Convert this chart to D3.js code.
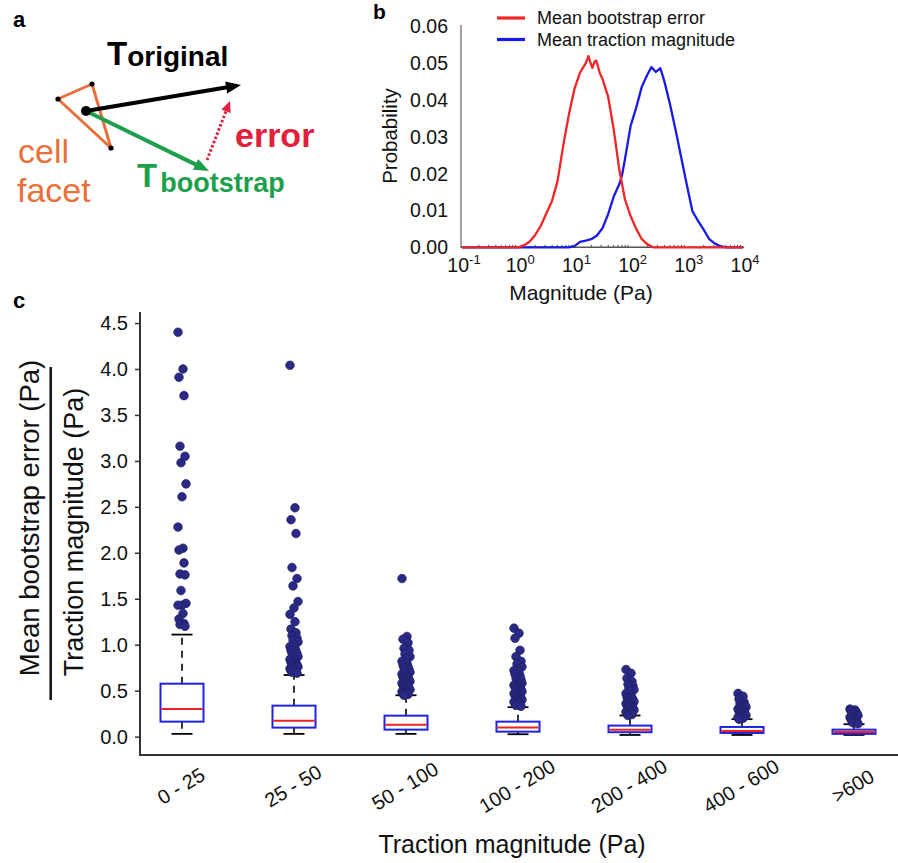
<!DOCTYPE html>
<html><head><meta charset="utf-8">
<script src="https://cdn.jsdelivr.net/npm/d3@7"></script>
<style>
body{margin:0;background:#fff}
text{font-family:"Liberation Sans",Arial,Helvetica,sans-serif}
</style>
</head><body>
<svg id="fig" width="898" height="863"></svg>
<script>
// ---------- Panel b data (log10 magnitude, probability) ----------
const errLog  = [-1, 0, 0.1, 0.2, 0.3, 0.4, 0.5, 0.6, 0.7, 0.8, 0.9, 1.0, 1.1, 1.2, 1.25, 1.28, 1.32, 1.36, 1.39, 1.45, 1.5, 1.6, 1.7, 1.8, 1.9, 2.0, 2.1, 2.2, 2.3, 2.4, 4];
const errProb = [0, 0, 0.0005, 0.0015, 0.0033, 0.0058, 0.0092, 0.0125, 0.018, 0.0275, 0.036, 0.043, 0.0475, 0.050, 0.052, 0.0505, 0.0488, 0.0505, 0.0508, 0.0475, 0.0458, 0.041, 0.032, 0.021, 0.013, 0.0085, 0.005, 0.0022, 0.0008, 0, 0];
const tracLog  = [-1, 0.9, 1.0, 1.1, 1.2, 1.3, 1.4, 1.5, 1.6, 1.7, 1.8, 1.85, 1.9, 2.0, 2.1, 2.2, 2.3, 2.37, 2.45, 2.53, 2.6, 2.7, 2.8, 2.9, 3.0, 3.1, 3.2, 3.3, 3.4, 3.5, 3.6, 3.7, 4];
const tracProb = [0, 0, 0.0003, 0.0015, 0.0018, 0.0022, 0.0032, 0.0052, 0.009, 0.0138, 0.0172, 0.0198, 0.024, 0.033, 0.038, 0.0437, 0.047, 0.049, 0.0477, 0.0487, 0.0452, 0.039, 0.032, 0.0245, 0.017, 0.0098, 0.0072, 0.0048, 0.0022, 0.001, 0.0003, 0, 0];
const bYTicks = [0, 0.01, 0.02, 0.03, 0.04, 0.05, 0.06];
const bXTicks = [0.1, 1, 10, 100, 1000, 10000];
const bXExp   = ["-1", "0", "1", "2", "3", "4"];
const legendLabels = ["Mean bootstrap error", "Mean traction magnitude"];

// ---------- Panel c data ----------
const categories  = ["0 - 25", "25 - 50", "50 - 100", "100 - 200", "200 - 400", "400 - 600", ">600"];
const whiskerLow  = [0.03, 0.03, 0.03, 0.026, 0.018, 0.018, 0.018];
const q1          = [0.163, 0.098, 0.076, 0.054, 0.048, 0.040, 0.030];
const median      = [0.30, 0.174, 0.13, 0.098, 0.076, 0.062, 0.050];
const q3          = [0.576, 0.337, 0.228, 0.163, 0.12, 0.105, 0.076];
const whiskerHigh = [1.11, 0.67, 0.45, 0.32, 0.23, 0.19, 0.135];
const out1 = [4.40, 4.00, 3.91, 3.71, 3.16, 3.05, 2.98, 2.75, 2.61, 2.28, 2.05, 2.03, 1.89, 1.77, 1.76, 1.59, 1.45, 1.43, 1.43, 1.34, 1.28, 1.23, 1.22, 1.20];
const out2 = [4.04, 2.49, 2.36, 2.21, 1.84, 1.72, 1.64, 1.47, 1.40, 1.33, 1.25, 1.17, 1.13, 1.10, 1.07, 1.05, 1.03, 1.00, 0.98, 0.96, 0.94, 0.93, 0.91, 0.90, 0.88, 0.87, 0.85, 0.84, 0.83, 0.81, 0.80, 0.79, 0.78, 0.77, 0.76, 0.75, 0.74, 0.73, 0.72, 0.71, 0.70, 0.69];
const out3 = [1.72, 1.09, 1.06, 1.02, 0.96, 0.94, 0.90, 0.87, 0.85, 0.82, 0.80, 0.78, 0.76, 0.75, 0.73, 0.72, 0.70, 0.69, 0.68, 0.66, 0.65, 0.64, 0.63, 0.62, 0.61, 0.60, 0.59, 0.58, 0.57, 0.56, 0.55, 0.54, 0.53, 0.52, 0.51, 0.50, 0.49, 0.48, 0.47, 0.46, 0.45];
const out4 = [1.18, 1.125, 1.07, 0.94, 0.87, 0.82, 0.79, 0.76, 0.74, 0.72, 0.70, 0.68, 0.66, 0.64, 0.62, 0.60, 0.58, 0.57, 0.56, 0.55, 0.54, 0.53, 0.52, 0.51, 0.50, 0.49, 0.48, 0.47, 0.46, 0.45, 0.44, 0.43, 0.42, 0.41, 0.40, 0.39, 0.38, 0.37, 0.36, 0.35, 0.34, 0.33];
const out5 = [0.73, 0.69, 0.635, 0.60, 0.57, 0.55, 0.53, 0.51, 0.49, 0.47, 0.45, 0.43, 0.42, 0.41, 0.40, 0.39, 0.38, 0.37, 0.36, 0.35, 0.34, 0.33, 0.32, 0.31, 0.30, 0.29, 0.28, 0.27, 0.26, 0.25, 0.24, 0.23];
const out6 = [0.47, 0.44, 0.41, 0.38, 0.36, 0.34, 0.33, 0.32, 0.31, 0.30, 0.29, 0.28, 0.27, 0.26, 0.25, 0.24, 0.23, 0.22, 0.21, 0.20, 0.19];
const out7 = [0.30, 0.29, 0.28, 0.27, 0.26, 0.25, 0.24, 0.23, 0.22, 0.21, 0.20, 0.19, 0.18, 0.17, 0.16, 0.15, 0.14];
const outliers = [out1, out2, out3, out4, out5, out6, out7];
const cYTicks = [0, 0.5, 1, 1.5, 2, 2.5, 3, 3.5, 4, 4.5];

const svg = d3.select("#fig");
const FONT = '"Liberation Sans",Arial,sans-serif';

// ================= Panel a (schematic) =================
(function(){
  const g = svg.append("g");
  g.append("text").attr("x", 13).attr("y", 27).attr("font-size", 22).attr("font-weight", "bold").text("a");
  const orange = "#e8703a", green = "#1d9f4b", red = "#e0203c";
  const tri = [[58,99],[92,84],[111,148]];
  g.append("path").attr("d", "M" + tri.map(p => p.join(",")).join("L") + "Z")
    .attr("fill", "none").attr("stroke", orange).attr("stroke-width", 3).attr("stroke-linejoin", "round");
  tri.forEach(p => g.append("circle").attr("cx", p[0]).attr("cy", p[1]).attr("r", 2.6).attr("fill", "#000"));
  function arrow(x1, y1, x2, y2, hl, hw, color, w, dash){
    const dx = x2 - x1, dy = y2 - y1, L = Math.hypot(dx, dy), ux = dx / L, uy = dy / L;
    const bx = x2 - ux * hl, by = y2 - uy * hl;
    const ln = g.append("line").attr("x1", x1).attr("y1", y1).attr("x2", bx + ux * 1).attr("y2", by + uy * 1)
      .attr("stroke", color).attr("stroke-width", w);
    if (dash) ln.attr("stroke-dasharray", dash);
    g.append("path").attr("d", `M${x2},${y2}L${bx - uy * hw / 2},${by + ux * hw / 2}L${bx + uy * hw / 2},${by - ux * hw / 2}Z`).attr("fill", color);
  }
  arrow(207, 160, 230, 101, 11, 10, red, 3, "2.5,2");
  arrow(86, 111, 209, 171, 15, 12, green, 4);
  arrow(86, 111, 241, 85, 15, 12, "#000", 4);
  g.append("circle").attr("cx", 86).attr("cy", 111).attr("r", 5).attr("fill", "#000");
  const t1 = g.append("text").attr("x", 107).attr("y", 65).attr("font-weight", "bold").attr("fill", "#000");
  t1.append("tspan").attr("font-size", 33).text("T");
  t1.append("tspan").attr("font-size", 28).attr("dy", 1).attr("dx", 0).text("original");
  const t2 = g.append("text").attr("x", 137).attr("y", 187).attr("font-weight", "bold").attr("fill", green);
  t2.append("tspan").attr("font-size", 33).text("T");
  t2.append("tspan").attr("font-size", 27).attr("dy", 5).attr("dx", 3).text("bootstrap");
  g.append("text").attr("x", 235).attr("y", 147).attr("font-size", 34).attr("font-weight", "bold").attr("fill", red).text("error");
  g.append("text").attr("x", 18).attr("y", 163).attr("font-size", 34).attr("fill", orange).text("cell");
  g.append("text").attr("x", 17).attr("y", 202).attr("font-size", 34).attr("fill", orange).text("facet");
})();

// ================= Panel b =================
(function(){
  const g = svg.append("g");
  g.append("text").attr("x", 373).attr("y", 19).attr("font-size", 21).attr("font-weight", "bold").text("b");
  const x = d3.scaleLog().domain([0.1, 10000]).range([462, 743]);
  const y = d3.scaleLinear().domain([0, 0.06]).range([247.3, 26.7]);
  g.append("line").attr("x1", 461).attr("x2", 461).attr("y1", 25).attr("y2", 248).attr("stroke", "#8a8a8a").attr("stroke-width", 1.6);
  const ya = g.append("g").attr("transform", "translate(461,0)")
    .call(d3.axisLeft(y).tickValues(bYTicks).tickFormat(d3.format(".2f")).tickSize(0).tickPadding(13));
  ya.select(".domain").remove();
  ya.selectAll("text").attr("font-size", 19.5).attr("font-family", FONT).attr("fill", "#111");
  g.append("line").attr("x1", 461).attr("x2", 744).attr("y1", y(0)).attr("y2", y(0)).attr("stroke", "#555").attr("stroke-width", 1.4);
  const minors = [];
  for (let k = -1; k < 4; k++) for (let m = 2; m < 10; m++) minors.push(m * Math.pow(10, k));
  g.selectAll(".mt").data(minors).join("line")
    .attr("x1", d => x(d)).attr("x2", d => x(d)).attr("y1", y(0)).attr("y2", y(0) - 2.5)
    .attr("stroke", "#555").attr("stroke-width", 1);
  bXTicks.forEach((v, i) => {
    const t = g.append("text").attr("x", x(v) + 2).attr("y", 272).attr("text-anchor", "middle").attr("fill", "#111");
    t.append("tspan").attr("font-size", 19.5).text("10");
    t.append("tspan").attr("font-size", 13).attr("dy", -8).text(bXExp[i]);
  });
  g.append("text").attr("x", 581).attr("y", 300).attr("text-anchor", "middle").attr("font-size", 21).attr("fill", "#111").text("Magnitude (Pa)");
  g.append("text").attr("transform", "translate(397,136) rotate(-90)").attr("text-anchor", "middle").attr("font-size", 20.5).attr("fill", "#111").text("Probability");
  const line = d3.line().x(d => x(Math.pow(10, d[0]))).y(d => y(d[1]));
  g.append("path").datum(d3.zip(tracLog, tracProb)).attr("d", line).attr("fill", "none").attr("stroke", "#1a1ae6").attr("stroke-width", 2.3).attr("stroke-linejoin", "round");
  g.append("path").datum(d3.zip(errLog, errProb)).attr("d", line).attr("fill", "none").attr("stroke", "#f22626").attr("stroke-width", 2.3).attr("stroke-linejoin", "round");
  const lc = ["#f22626", "#1a1ae6"];
  legendLabels.forEach((lab, i) => {
    const yy = 18 + i * 21.5;
    g.append("line").attr("x1", 497).attr("x2", 525).attr("y1", yy).attr("y2", yy).attr("stroke", lc[i]).attr("stroke-width", 3.2);
    g.append("text").attr("x", 537).attr("y", yy + 4).attr("dy", "0.12em").attr("font-size", 18).attr("fill", "#111").text(lab);
  });
})();

// ================= Panel c =================
(function(){
  const g = svg.append("g");
  g.append("text").attr("x", 13).attr("y", 308).attr("font-size", 22).attr("font-weight", "bold").text("c");
  const y = d3.scaleLinear().domain([-0.2, 4.62]).range([755, 312]);
  const x = d3.scalePoint().domain(categories).range([182, 854]);
  const ya = g.append("g").attr("transform", "translate(140,0)")
    .call(d3.axisLeft(y).tickValues(cYTicks).tickFormat(d3.format(".1f")).tickSize(5).tickPadding(7));
  ya.select(".domain").remove();
  ya.selectAll("line").attr("stroke", "#333").attr("stroke-width", 1.5);
  ya.selectAll("text").attr("font-size", 20).attr("font-family", FONT).attr("fill", "#111");
  g.append("line").attr("x1", 140).attr("x2", 140).attr("y1", 312).attr("y2", 756).attr("stroke", "#333").attr("stroke-width", 2);
  g.append("line").attr("x1", 139).attr("x2", 898).attr("y1", 755).attr("y2", 755).attr("stroke", "#333").attr("stroke-width", 2);
  categories.forEach(c => {
    g.append("text").attr("transform", `translate(${x(c) - 1},786) rotate(-31)`).attr("text-anchor", "middle")
      .attr("dy", "0.35em").attr("font-size", 20).attr("fill", "#111").text(c);
  });
  g.append("text").attr("x", 512).attr("y", 853).attr("text-anchor", "middle").attr("font-size", 25).attr("fill", "#111").text("Traction magnitude (Pa)");
  g.append("text").attr("transform", "translate(39,518) rotate(-90)").attr("text-anchor", "middle").attr("font-size", 27.5).attr("fill", "#111").text("Mean bootstrap error (Pa)");
  g.append("line").attr("x1", 50.7).attr("x2", 50.7).attr("y1", 367).attr("y2", 700).attr("stroke", "#111").attr("stroke-width", 2.5);
  g.append("text").attr("transform", "translate(83,532) rotate(-90)").attr("text-anchor", "middle").attr("font-size", 27).attr("fill", "#111").text("Traction magnitude (Pa)");
  const bw = 43, cw = 21;
  categories.forEach((c, i) => {
    const cx = x(c);
    const bg = g.append("g");
    bg.append("line").attr("x1", cx).attr("x2", cx).attr("y1", y(q3[i])).attr("y2", y(whiskerHigh[i]))
      .attr("stroke", "#000").attr("stroke-width", 1.6).attr("stroke-dasharray", "7,6");
    bg.append("line").attr("x1", cx).attr("x2", cx).attr("y1", y(q1[i])).attr("y2", y(whiskerLow[i]))
      .attr("stroke", "#000").attr("stroke-width", 1.6).attr("stroke-dasharray", "7,6");
    [whiskerLow[i], whiskerHigh[i]].forEach(v => bg.append("line").attr("x1", cx - cw / 2).attr("x2", cx + cw / 2)
      .attr("y1", y(v)).attr("y2", y(v)).attr("stroke", "#000").attr("stroke-width", 1.8));
    bg.append("rect").attr("x", cx - bw / 2).attr("y", y(q3[i])).attr("width", bw).attr("height", y(q1[i]) - y(q3[i]))
      .attr("fill", "#fff").attr("stroke", "#2222dd").attr("stroke-width", 2);
    bg.append("line").attr("x1", cx - bw / 2 + 1).attr("x2", cx + bw / 2 - 1).attr("y1", y(median[i])).attr("y2", y(median[i]))
      .attr("stroke", "#ee2222").attr("stroke-width", 2);
  });
  categories.forEach((c, i) => {
    const cx = x(c);
    g.append("g").selectAll("circle").data(outliers[i]).join("circle")
      .attr("cx", (d, j) => cx + ((j * 5) % 9 - 4))
      .attr("cy", d => y(d)).attr("r", 4.3)
      .attr("fill", "#2a2a86").attr("stroke", "#1d1d60").attr("stroke-width", 0.7);
  });
})();
</script>
</body></html>
